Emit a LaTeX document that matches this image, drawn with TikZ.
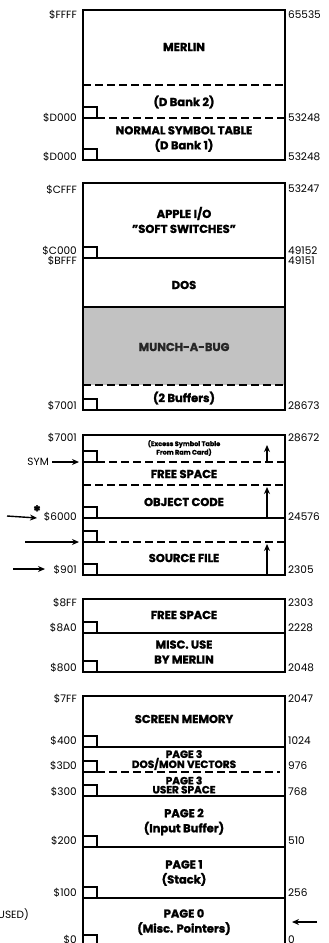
\documentclass[tikz,border=0pt]{standalone}
\usepackage{fontspec}
\setmainfont{Poppins}[BoldFeatures={FakeBold=1.5}]
\usetikzlibrary{arrows.meta}
\tikzset{
  boxl/.style={line width=1.4pt},
  divl/.style={line width=1.2pt},
  dl/.style={line width=1.2pt, dash pattern=on 8pt off 4pt},
  sq/.style={line width=1.1pt},
  ll/.style={anchor=east, inner sep=0pt, font=\fontsize{10.5}{11}\selectfont},
  rl/.style={anchor=west, inner sep=0pt, font=\fontsize{10.5}{11}\selectfont},
  tx/.style={inner sep=0pt, align=center, font=\bfseries\fontsize{11.5}{15}\selectfont},
  stx/.style={inner sep=0pt, align=center, font=\bfseries\fontsize{6.5}{8.5}\selectfont},
  arr/.style={line width=1.4pt, -{Stealth[length=7pt,width=6pt]}},
}
\newcommand\tsq[1]{\draw[sq] (83,#1) rectangle ++(14,-11);}
\begin{document}
\begin{tikzpicture}[x=1pt,y=-1pt]
\useasboundingbox (0,0) rectangle (329,943);
\begin{scope}
\clip (0,0) rectangle (329,943);
% ---------- box 1
\draw[boxl] (83,10) rectangle (285,160);
\draw[dl] (83,85) -- (285,85);
\draw[dl] (97,118) -- (285,118);
\tsq{118}\tsq{160}
\node[tx] (merlin) at (184,47) {MERLIN};
\node[tx] (db2) at (184,102) {(D Bank 2)};
\node[tx] (nst) at (184,139) {NORMAL SYMBOL TABLE\\(D Bank 1)};
% ---------- box 2
\fill[black!24] (83,307) rectangle (285,385);
\draw[boxl] (83,183) rectangle (285,410);
\draw[divl] (83,258) -- (285,258);
\draw[divl] (83,307) -- (285,307);
\draw[dl] (83,385) -- (285,385);
\tsq{258}\tsq{410}
\node[tx] (apple) at (184,220) {APPLE I/O\\"SOFT SWITCHES"};
\node[tx] (dos) at (184,285) {DOS};
\node[tx, text=black!85] (munch) at (184,347) {MUNCH-A-BUG};
\node[tx] (buf) at (184,398) {(2 Buffers)};
% ---------- box 3
\draw[boxl] (83,435) rectangle (285,575);
\draw[dl] (97,462) -- (285,462);
\draw[dl] (83,485) -- (285,485);
\draw[divl] (83,518) -- (285,518);
\draw[dl] (97,542) -- (285,542);
\tsq{462}\tsq{518}\tsq{542}\tsq{575}
\node[stx] (exc) at (184,448) {(Excess Symbol Table\\From Ram Card)};
\node[tx] (fs1) at (184,474) {FREE SPACE};
\node[tx] (obj) at (184,502) {OBJECT CODE};
\node[tx] (src) at (184,558) {SOURCE FILE};
\coordinate (u1a) at (267,462); \coordinate (u1b) at (267,445);
\coordinate (u2a) at (267,518); \coordinate (u2b) at (267,487);
\coordinate (u3a) at (267,575); \coordinate (u3b) at (267,544);
\draw[arr] (u1a) -- (u1b);
\draw[arr] (u2a) -- (u2b);
\draw[arr] (u3a) -- (u3b);
% ---------- box 4
\draw[boxl] (83,599) rectangle (285,672);
\draw[divl] (83,633) -- (285,633);
\tsq{633}\tsq{672}
\node[tx] (fs2) at (184,615) {FREE SPACE};
\node[tx] (misc) at (184,652) {MISC. USE\\BY MERLIN};
% ---------- box 5
\draw[boxl] (83,696) rectangle (285,960);
\draw[divl] (83,747) -- (285,747);
\draw[dl] (97,772) -- (280,772);
\draw[divl] (83,796) -- (285,796);
\draw[divl] (83,847) -- (285,847);
\draw[divl] (83,898) -- (285,898);
\tsq{747}\tsq{772}\tsq{796}\tsq{847}\tsq{898}\tsq{946}
\node[tx] (scr) at (184,719) {SCREEN MEMORY};
\node[tx, font=\bfseries\fontsize{10.5}{10}\selectfont] (p3a) at (184,760) {PAGE 3\\[-1pt]DOS/MON VECTORS};
\node[tx, font=\bfseries\fontsize{10.5}{10}\selectfont] (p3b) at (184,785) {PAGE 3\\[-1pt]USER SPACE};
\node[tx] (p2) at (184,822) {PAGE 2\\(Input Buffer)};
\node[tx] (p1) at (184,873) {PAGE 1\\(Stack)};
\node[tx] (p0) at (184,922) {PAGE 0\\(Misc. Pointers)};
% ---------- left labels
\node[ll] (lFFFF) at (77,15) {\$FFFF};
\node[ll] (lD000a) at (77,118) {\$D000};
\node[ll] (lD000b) at (77,157) {\$D000};
\node[ll] (lCFFF) at (77,190) {\$CFFF};
\node[ll] (lC000) at (77,251) {\$C000};
\node[ll] (lBFFF) at (77,261) {\$BFFF};
\node[ll] (l7001a) at (77,406) {\$7001};
\node[ll] (l7001b) at (77,438) {\$7001};
\node[ll] (lsym) at (49,462) {SYM};
\node[ll] (l6000) at (77,517) {\$6000};
\node[inner sep=0pt, font=\bfseries\fontsize{15}{15}\selectfont] (ast) at (37,511) {*};
\node[ll] (l901) at (77,570) {\$901};
\node[ll] (l8FF) at (77,603) {\$8FF};
\node[ll] (l8A0) at (77,628) {\$8A0};
\node[ll] (l800) at (77,668) {\$800};
\node[ll] (l7FF) at (77,699) {\$7FF};
\node[ll] (l400) at (77,741) {\$400};
\node[ll] (l3D0) at (77,766) {\$3D0};
\node[ll] (l300) at (77,792) {\$300};
\node[ll] (l200) at (77,841) {\$200};
\node[ll] (l100) at (77,893) {\$100};
\node[ll] (l0) at (77,940) {\$0};
\node[anchor=east, inner sep=0pt, font=\fontsize{10.5}{11}\selectfont] (unused) at (29,915) {(UNUSED)};
% ---------- right labels
\node[rl] (r65535) at (288,15) {65535};
\node[rl] (r53248a) at (288,118) {53248};
\node[rl] (r53248b) at (288,157) {53248};
\node[rl] (r53247) at (288,189) {53247};
\node[rl] (r49152) at (288,251) {49152};
\node[rl] (r49151) at (288,261) {49151};
\node[rl] (r28673) at (288,406) {28673};
\node[rl] (r28672) at (288,438) {28672};
\node[rl] (r24576) at (288,517) {24576};
\node[rl] (r2305) at (288,570) {2305};
\node[rl] (r2303) at (288,603) {2303};
\node[rl] (r2228) at (288,628) {2228};
\node[rl] (r2048) at (288,668) {2048};
\node[rl] (r2047) at (288,699) {2047};
\node[rl] (r1024) at (288,741) {1024};
\node[rl] (r976) at (288,766) {976};
\node[rl] (r768) at (288,792) {768};
\node[rl] (r510) at (288,841) {510};
\node[rl] (r256) at (288,893) {256};
\node[rl] (r0) at (288,940) {0};
% ---------- arrows
\coordinate (syms) at (52,462); \coordinate (symend) at (79,462);
\draw[arr] (syms) -- (symend);
\coordinate (a6s) at (7,516); \coordinate (a6e) at (37,518);
\draw[arr] (a6s) -- (a6e);
\coordinate (ams) at (25,542); \coordinate (ame) at (79,542);
\draw[arr] (ams) -- (ame);
\coordinate (a9s) at (13,569); \coordinate (a9e) at (45,569);
\draw[arr] (a9s) -- (a9e);
\coordinate (ars) at (317,922); \coordinate (are) at (292,922);
\draw[arr] (ars) -- (are);
\end{scope}
\end{tikzpicture}
\end{document}
